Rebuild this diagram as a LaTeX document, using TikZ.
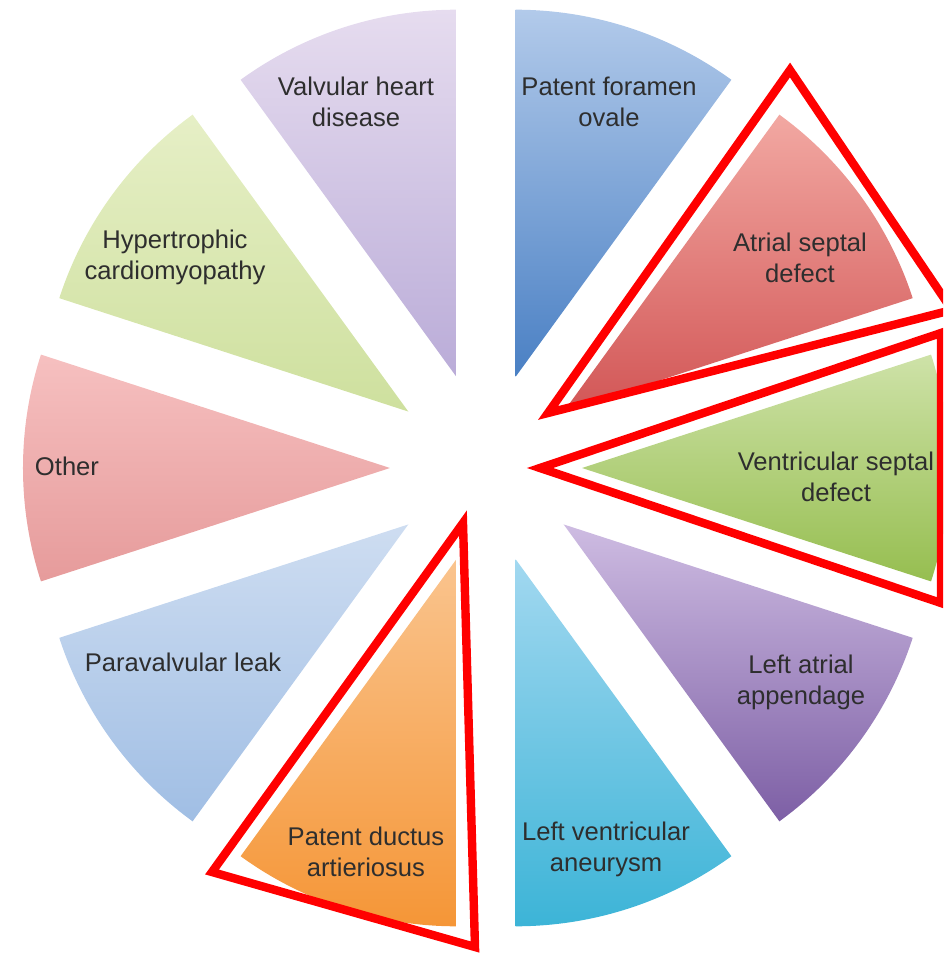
\documentclass[tikz,border=0pt]{standalone}
\usepackage{fontspec}
\setmainfont{Liberation Sans}
\usetikzlibrary{calc}

\definecolor{pfoTop}{RGB}{178,202,234}
\definecolor{pfoBot}{RGB}{74,128,196}
\definecolor{asdTop}{RGB}{242,168,162}
\definecolor{asdBot}{RGB}{210,86,86}
\definecolor{vsdTop}{RGB}{206,226,168}
\definecolor{vsdBot}{RGB}{150,190,80}
\definecolor{laaTop}{RGB}{206,188,226}
\definecolor{laaBot}{RGB}{125,95,165}
\definecolor{lvaTop}{RGB}{162,216,240}
\definecolor{lvaBot}{RGB}{60,180,215}
\definecolor{pdaTop}{RGB}{250,196,142}
\definecolor{pdaBot}{RGB}{245,150,55}
\definecolor{pvlTop}{RGB}{206,221,241}
\definecolor{pvlBot}{RGB}{160,190,228}
\definecolor{othTop}{RGB}{246,192,192}
\definecolor{othBot}{RGB}{230,155,155}
\definecolor{hcmTop}{RGB}{230,239,198}
\definecolor{hcmBot}{RGB}{206,224,158}
\definecolor{vhdTop}{RGB}{230,220,239}
\definecolor{vhdBot}{RGB}{186,172,216}

\begin{document}
\begin{tikzpicture}[x=0.5pt,y=0.5pt,
    lbl/.style={align=center,inner sep=0pt,text=black!82,
      font=\fontsize{12.8}{15.5}\selectfont},
    redtri/.style={draw=red,line width=4.2pt}]
            \useasboundingbox (-486,-485) rectangle (457,468);
            \clip (-486,-485) rectangle (457,468);

            % wedges, each pushed out from the middle
            \shade[top color=pfoTop,bottom color=pfoBot] (72:96) -- ++(90:367) arc[start angle=90,end angle=54,radius=367] -- cycle;
            \shade[top color=asdTop,bottom color=asdBot] (36:96) -- ++(54:367) arc[start angle=54,end angle=18,radius=367] -- cycle;
            \shade[top color=vsdTop,bottom color=vsdBot] (0:96) -- ++(18:367) arc[start angle=18,end angle=-18,radius=367] -- cycle;
            \shade[top color=laaTop,bottom color=laaBot] (-36:96) -- ++(-18:367) arc[start angle=-18,end angle=-54,radius=367] -- cycle;
            \shade[top color=lvaTop,bottom color=lvaBot] (-72:96) -- ++(-54:367) arc[start angle=-54,end angle=-90,radius=367] -- cycle;
            \shade[top color=pdaTop,bottom color=pdaBot] (-108:96) -- ++(-90:367) arc[start angle=-90,end angle=-126,radius=367] -- cycle;
            \shade[top color=pvlTop,bottom color=pvlBot] (-144:96) -- ++(-126:367) arc[start angle=-126,end angle=-162,radius=367] -- cycle;
            \shade[top color=othTop,bottom color=othBot] (180:96) -- ++(162:367) arc[start angle=162,end angle=198,radius=367] -- cycle;
            \shade[top color=hcmTop,bottom color=hcmBot] (144:96) -- ++(126:367) arc[start angle=126,end angle=162,radius=367] -- cycle;
            \shade[top color=vhdTop,bottom color=vhdBot] (108:96) -- ++(90:367) arc[start angle=90,end angle=126,radius=367] -- cycle;

            \node[lbl] (pfo) at (123,366) {Patent foramen\\ovale};
            \node[lbl] (asd) at (314,210) {Atrial septal\\defect};
            \node[lbl] (vsd) at (350,-9) {Ventricular septal\\defect};
            \node[lbl] (laa) at (315,-214) {Left atrial\\appendage};
            \node[lbl] (lva) at (120,-381) {Left ventricular\\aneurysm};
            \node[lbl] (pda) at (-120,-384) {Patent ductus\\artieriosus};
            \node[lbl] (pvl) at (-303,-194) {Paravalvular leak};
            \node[lbl] (other) at (-419,2) {Other};
            \node[lbl] (hcm) at (-311,211) {Hypertrophic\\cardiomyopathy};
            \node[lbl] (vhd) at (-130,366) {Valvular heart\\disease};

            % red outlines
            \draw[redtri] (304,398) -- (466,158) -- (62,55) -- cycle;
            \draw[redtri] (54,0) -- (455,135) -- (455,-135) -- cycle;
            \draw[redtri] (-23,-55) -- (-11,-479) -- (-274,-404) -- cycle;
        \end{tikzpicture}
\end{document}
